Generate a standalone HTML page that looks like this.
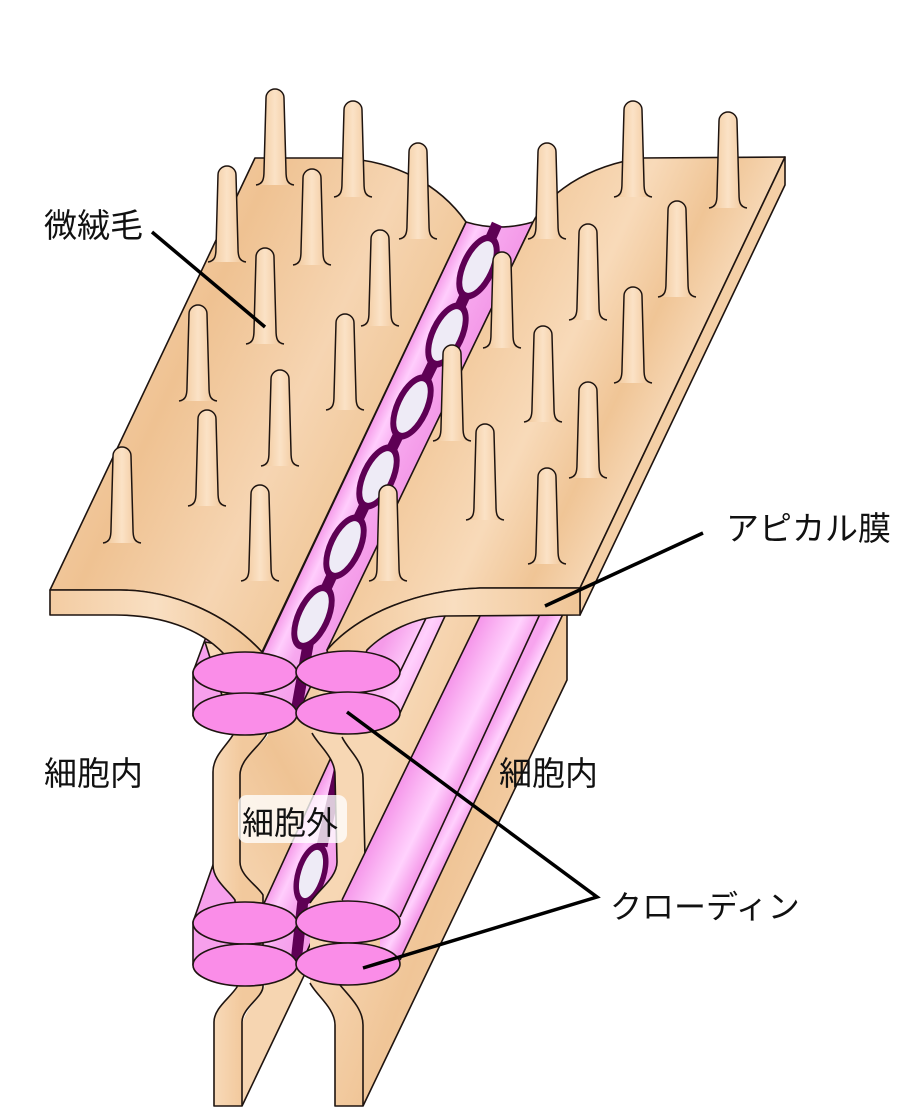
<!DOCTYPE html>
<html><head><meta charset="utf-8"><style>
html,body{margin:0;padding:0;background:#fff;}
svg{display:block;}
text{font-family:"Liberation Sans","Noto Sans CJK JP",sans-serif;fill:#111;}
</style></head><body>
<svg width="900" height="1111" viewBox="0 0 900 1111" xmlns="http://www.w3.org/2000/svg">
<defs>
<linearGradient id="tanL" gradientUnits="userSpaceOnUse" x1="100" y1="250" x2="470" y2="420">
<stop offset="0" stop-color="#f6d4b0"/><stop offset="0.3" stop-color="#efc292"/><stop offset="0.6" stop-color="#f6d5b2"/><stop offset="0.8" stop-color="#f1c99c"/><stop offset="1" stop-color="#f8dbbb"/></linearGradient>
<linearGradient id="tanR" gradientUnits="userSpaceOnUse" x1="480" y1="300" x2="780" y2="440">
<stop offset="0" stop-color="#f2c99c"/><stop offset="0.3" stop-color="#f8dab9"/><stop offset="0.5" stop-color="#f0c596"/><stop offset="0.7" stop-color="#f8dcbd"/><stop offset="1" stop-color="#f6d6b3"/></linearGradient>
<linearGradient id="faceL" gradientUnits="userSpaceOnUse" x1="50" y1="0" x2="262" y2="0">
<stop offset="0" stop-color="#f3cca2"/><stop offset="0.5" stop-color="#f9dfc2"/><stop offset="1" stop-color="#efc393"/></linearGradient>
<linearGradient id="faceR" gradientUnits="userSpaceOnUse" x1="327" y1="0" x2="580" y2="0">
<stop offset="0" stop-color="#f1c697"/><stop offset="0.5" stop-color="#f9dec0"/><stop offset="1" stop-color="#f0c596"/></linearGradient>
<linearGradient id="tanLat" gradientUnits="userSpaceOnUse" x1="240" y1="900" x2="420" y2="800">
<stop offset="0" stop-color="#f6d5b1"/><stop offset="0.5" stop-color="#efc394"/><stop offset="1" stop-color="#f6d5b1"/></linearGradient>
<linearGradient id="tanLatR" gradientUnits="userSpaceOnUse" x1="335" y1="900" x2="560" y2="980">
<stop offset="0" stop-color="#f7d7b4"/><stop offset="0.4" stop-color="#f0c597"/><stop offset="1" stop-color="#f8dab9"/></linearGradient>
<linearGradient id="strip" gradientUnits="userSpaceOnUse" x1="213" y1="0" x2="242" y2="0">
<stop offset="0" stop-color="#f8dab9"/><stop offset="1" stop-color="#f2c99d"/></linearGradient>
<linearGradient id="tubeA" gradientUnits="userSpaceOnUse" x1="411" y1="760" x2="462" y2="785">
<stop offset="0" stop-color="#f597ea"/><stop offset="0.35" stop-color="#fbb8f4"/><stop offset="0.65" stop-color="#ffd2fd"/><stop offset="1" stop-color="#f59ae9"/></linearGradient>
<linearGradient id="tubeB" gradientUnits="userSpaceOnUse" x1="473" y1="760" x2="494" y2="771">
<stop offset="0" stop-color="#f7a4ee"/><stop offset="0.5" stop-color="#ffd0fd"/><stop offset="1" stop-color="#f59be9"/></linearGradient>
<linearGradient id="tubeU" gradientUnits="userSpaceOnUse" x1="380" y1="650" x2="440" y2="680">
<stop offset="0" stop-color="#f59be9"/><stop offset="0.5" stop-color="#ffd0fc"/><stop offset="1" stop-color="#f59be9"/></linearGradient>
<linearGradient id="bandUp" gradientUnits="userSpaceOnUse" x1="363" y1="440" x2="416" y2="465">
<stop offset="0" stop-color="#f59be9"/><stop offset="0.22" stop-color="#ffcdfc"/><stop offset="0.5" stop-color="#f7a8ef"/><stop offset="1" stop-color="#f49ae8"/></linearGradient>
<linearGradient id="bandLo" gradientUnits="userSpaceOnUse" x1="284" y1="860" x2="337" y2="885">
<stop offset="0" stop-color="#f59be9"/><stop offset="0.22" stop-color="#ffcdfc"/><stop offset="0.5" stop-color="#f7a8ef"/><stop offset="1" stop-color="#f49ae8"/></linearGradient>
<linearGradient id="mvg" x1="0" y1="0" x2="1" y2="0">
<stop offset="0" stop-color="#f0c494"/><stop offset="0.5" stop-color="#fbe2c6"/><stop offset="1" stop-color="#efc292"/></linearGradient>
<g id="mv"><path d="M-19,96 C-12,95 -11,90 -11,82 L-9,9 A9,9 0 0 1 9,9 L11,82 C11,90 12,95 19,96" fill="url(#mvg)" stroke="#1e1410" stroke-width="1.5"/></g>
</defs>

<g stroke="#1e1410" stroke-width="1.6" stroke-linejoin="round">
<path d="M242,1106 L440,690 L440,614 L262,614 L268,735 C262,745 240,758 240,775 L240,862 C240,876 258,886 263,895 L265,985 C262,998 242,1010 242,1028 Z" fill="url(#tanLat)" stroke="none"/>
<path d="M242,1106 L440,690" fill="none"/>

<path d="M193,716 L193,672 L206,637 L250,640 L262,700 Z" fill="#f7a0ec"/>
<path d="M193,965 L193,922 L214,862 L240,880 L255,960 Z" fill="#f7a0ec"/>

<path d="M339,740 L404,740 L303,960 L238,960 Z" fill="url(#bandLo)"/>
<path d="M346,740 L322,846" stroke="#5e0054" stroke-width="11" fill="none"/>
<ellipse cx="311" cy="874" rx="15.5" ry="32" transform="rotate(17 311 874)" fill="#5e0054" stroke="none"/>
<ellipse cx="311" cy="874" rx="10" ry="25" transform="rotate(17 311 874)" fill="#eeebf6" stroke="none"/>
<path d="M303,900 L296,962" stroke="#5e0054" stroke-width="11" fill="none"/>

<path d="M205,642 L234,733 C228,745 213,755 213,772 L213,865 C213,880 228,890 235,900 L237,987 C230,998 214,1008 214,1022 L214,1106 L242,1106 L242,1022 C242,1008 262,998 263,987 L263,895 C258,886 240,876 240,862 L240,775 C240,758 262,745 267,733 L262,652 Z" fill="url(#strip)"/>

<path d="M327,648 L312,733 C318,745 335,757 335,775 L337,862 C337,878 318,890 310,903 L310,983 C316,995 335,1008 335,1025 L335,1106 L363,1106 L567,680 L567,614 L440,614 Z" fill="url(#tanLatR)" stroke="none"/>
<path d="M312,733 C318,745 335,757 335,775 L337,862 C337,878 318,890 310,903 M310,983 C316,995 335,1008 335,1025 L335,1106 L363,1106 L567,680 L567,614" fill="none"/>
<path d="M342,737 C348,750 363,760 363,778 L365,857 C365,875 348,890 342,902 M340,985 C348,995 363,1008 363,1025 L363,1106" fill="none"/>

<path d="M342,900 L481,614 L540,614 L400,917 Z" fill="url(#tubeA)" stroke="none"/>
<path d="M400,917 L540,614 L563,614 L400,962 L380,950 L380,925 Z" fill="url(#tubeB)" stroke="none"/>
<path d="M342,900 L481,614 M400,917 L540,614 M400,960 L563,614" fill="none"/>

<path d="M340,690 L400,713 L446,614 L370,614 Z" fill="url(#tubeU)" stroke="none"/>
<path d="M400,672 L428,614 M400,713 L446,614" fill="none"/>

<path d="M466,222 Q499,232 533,222 L297,715 L233,715 Z" fill="url(#bandUp)"/>
<polyline points="497,224 478,267 447,335 412,407 378,477 345,547 313,617 296,712" stroke="#5e0054" stroke-width="11" fill="none"/>
<g fill="#5e0054" stroke="none">
<ellipse cx="478" cy="267" rx="17.5" ry="35" transform="rotate(25 478 267)"/>
<ellipse cx="447" cy="335" rx="17.5" ry="35" transform="rotate(25 447 335)"/>
<ellipse cx="412" cy="407" rx="17.5" ry="35" transform="rotate(25 412 407)"/>
<ellipse cx="378" cy="477" rx="17.5" ry="35" transform="rotate(25 378 477)"/>
<ellipse cx="345" cy="547" rx="17.5" ry="35" transform="rotate(25 345 547)"/>
<ellipse cx="313" cy="617" rx="17.5" ry="35" transform="rotate(25 313 617)"/>
</g>
<g fill="#eeebf6" stroke="none">
<ellipse cx="478" cy="267" rx="11.5" ry="28" transform="rotate(25 478 267)"/>
<ellipse cx="447" cy="335" rx="11.5" ry="28" transform="rotate(25 447 335)"/>
<ellipse cx="412" cy="407" rx="11.5" ry="28" transform="rotate(25 412 407)"/>
<ellipse cx="378" cy="477" rx="11.5" ry="28" transform="rotate(25 378 477)"/>
<ellipse cx="345" cy="547" rx="11.5" ry="28" transform="rotate(25 345 547)"/>
<ellipse cx="313" cy="617" rx="11.5" ry="28" transform="rotate(25 313 617)"/>
</g>

<path d="M255,158 L340,158 C395,160 440,185 466,222 L262,652 C225,612 170,590 120,590 L50,590 Z" fill="url(#tanL)"/>
<path d="M50,590 L120,590 C170,590 225,612 262,652 L262,680 L240,680 L225,655 C200,628 160,615 115,615 L50,615 Z" fill="url(#faceL)"/>

<path d="M533,222 C542,205 570,170 640,158 L785,157 L580,588 L480,588 C420,590 360,612 327,650 Z" fill="url(#tanR)"/>
<path d="M785,157 L785,185 L580,615 L580,588 Z" fill="#f4cfa6"/>
<path d="M580,588 L480,588 C420,590 360,612 327,650 L332,668 L360,668 L367,650 C385,632 415,617 445,616 L580,615 Z" fill="url(#faceR)"/>

<g fill="#fa8de8">
<ellipse cx="245" cy="673" rx="52" ry="21"/>
<ellipse cx="348" cy="672" rx="52" ry="21"/>
<ellipse cx="245" cy="714" rx="52" ry="21"/>
<ellipse cx="348" cy="713" rx="52" ry="21"/>
<ellipse cx="245" cy="923" rx="52" ry="21"/>
<ellipse cx="348" cy="922" rx="52" ry="21"/>
<ellipse cx="245" cy="965" rx="52" ry="21"/>
<ellipse cx="348" cy="964" rx="52" ry="21"/>
</g>
</g>

<use href="#mv" x="275" y="89"/>
<use href="#mv" x="353" y="101"/>
<use href="#mv" x="418" y="143"/>
<use href="#mv" x="227" y="166"/>
<use href="#mv" x="312" y="169"/>
<use href="#mv" x="380" y="230"/>
<use href="#mv" x="265" y="248"/>
<use href="#mv" x="198" y="305"/>
<use href="#mv" x="345" y="314"/>
<use href="#mv" x="280" y="370"/>
<use href="#mv" x="207" y="410"/>
<use href="#mv" x="122" y="447"/>
<use href="#mv" x="260" y="485"/>
<use href="#mv" x="547" y="143"/>
<use href="#mv" x="633" y="101"/>
<use href="#mv" x="728" y="112"/>
<use href="#mv" x="502" y="252"/>
<use href="#mv" x="588" y="224"/>
<use href="#mv" x="677" y="201"/>
<use href="#mv" x="452" y="345"/>
<use href="#mv" x="543" y="326"/>
<use href="#mv" x="633" y="287"/>
<use href="#mv" x="588" y="382"/>
<use href="#mv" x="485" y="424"/>
<use href="#mv" x="547" y="468"/>
<use href="#mv" x="388" y="485"/>

<rect x="238" y="795" width="109" height="48" rx="9" fill="#ffffff" fill-opacity="0.78"/>
<text x="242" y="834" font-size="32">細胞外</text>

<g stroke="#000" stroke-width="3.5" fill="none" stroke-linecap="butt">
<line x1="152" y1="232" x2="265" y2="327"/>
<line x1="703" y1="533" x2="545" y2="606"/>
<polyline points="347,712 597,897 363,968"/>
</g>

<text x="44" y="237" font-size="33">微絨毛</text>
<text x="726" y="540" font-size="33">アピカル膜</text>
<text x="44" y="785" font-size="33">細胞内</text>
<text x="499" y="785" font-size="33">細胞内</text>
<text x="610" y="918" font-size="32">クローディン</text>
</svg>
</body></html>
